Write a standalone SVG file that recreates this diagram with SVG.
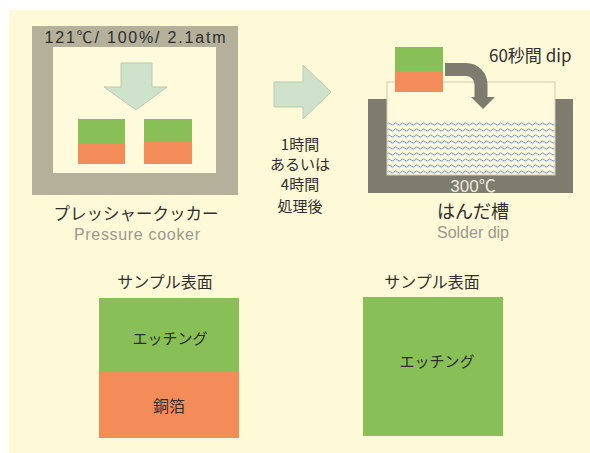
<svg xmlns="http://www.w3.org/2000/svg" width="590" height="453" viewBox="0 0 590 453">
<defs>
<style>
.jp{font-family:"Noto Sans CJK JP","Liberation Sans",sans-serif;fill:#2e2e2e;}
.lat{font-family:"Liberation Sans","Noto Sans CJK JP",sans-serif;fill:#2e2e2e;}
.sub{fill:#9a9890;}
.green{fill:#88C057;}
.orange{fill:#F48C59;}
.light{fill:#CFE2CB;stroke:#B9CBB2;stroke-width:1;}
.dark{fill:#7E7C6E;}
</style>
<pattern id="waves" x="387" y="121" width="7" height="6" patternUnits="userSpaceOnUse">
<path d="M0,3 Q1.75,0.8 3.5,3 T7,3" fill="none" stroke="#6A8EC4" stroke-width="1"/>
<path d="M0,3.8 Q1.75,1.6 3.5,3.8 T7,3.8" fill="none" stroke="#C3D3E4" stroke-width="0.6"/>
</pattern>
</defs>
<rect x="0" y="0" width="590" height="453" fill="#FFFFFF"/>
<rect x="9" y="10" width="581" height="443" fill="#FEF9D7"/>

<g id="pressure-cooker">
<rect x="32" y="26" width="206" height="169" fill="#B4B09A"/>
<rect x="53" y="47" width="163" height="126" fill="#FFFADC"/>
<text class="lat" x="135" y="43" font-size="16" text-anchor="middle" textLength="181" lengthAdjust="spacing">121℃/ 100%/ 2.1atm</text>
<polygon class="light" points="121,63 152,63 152,87 167,87 136,110 104,87 121,87"/>
<rect class="green" x="78" y="119" width="47" height="25"/>
<rect class="orange" x="78" y="144" width="47" height="20"/>
<rect class="green" x="144" y="119" width="48" height="23"/>
<rect class="orange" x="144" y="142" width="48" height="22"/>
<text class="jp" x="136" y="220" font-size="16.5" text-anchor="middle">プレッシャークッカー</text>
<text class="lat sub" x="137" y="240" font-size="16" text-anchor="middle" textLength="126" lengthAdjust="spacing">Pressure cooker</text>
</g>

<g id="process-label">
<text class="jp" x="300" y="150" font-size="15" text-anchor="middle">1時間</text>
<text class="jp" x="300" y="170" font-size="15" text-anchor="middle">あるいは</text>
<text class="jp" x="300" y="190" font-size="15" text-anchor="middle">4時間</text>
<text class="jp" x="300" y="212" font-size="15" text-anchor="middle">処理後</text>
</g>

<g id="solder-bath">
<rect class="dark" x="368" y="99" width="205" height="94"/>
<rect x="387" y="82" width="168" height="93" fill="#FFFADC" stroke="#CFCBB4" stroke-width="1"/>
<rect x="387.5" y="121" width="167" height="54" fill="url(#waves)"/>
<text x="473" y="192" font-size="17" text-anchor="middle" font-family="Liberation Sans, Noto Sans CJK JP, sans-serif" fill="#ECE9DC">300℃</text>
<text class="jp" x="473" y="218" font-size="18" text-anchor="middle">はんだ槽</text>
<text class="lat sub" x="473" y="238" font-size="16" text-anchor="middle">Solder dip</text>
<text class="jp" x="489" y="62" font-size="17">60秒間 dip</text>
</g>

<g id="dip-sample">
<rect class="green" x="395" y="47" width="48" height="24"/>
<rect class="orange" x="395" y="71" width="48" height="21"/>
</g>

<g id="connectors">
<polygon class="light" points="274,82 303,82 303,65 331,92 303,119 303,107 274,107"/>
<path d="M445,69.5 H466 A15,15 0 0 1 481,84.5 V99" fill="none" stroke="#7E7C6E" stroke-width="13"/>
<polygon class="dark" points="471,97 495,97 483,109"/>
</g>

<g id="sample-left">
<text class="jp" x="165" y="288" font-size="16" text-anchor="middle">サンプル表面</text>
<rect class="green" x="99" y="298" width="140" height="74"/>
<rect class="orange" x="99" y="372" width="140" height="66"/>
<text class="jp" x="170" y="344" font-size="15" text-anchor="middle">エッチング</text>
<text class="jp" x="169" y="412" font-size="16" text-anchor="middle">銅箔</text>
</g>

<g id="sample-right">
<text class="jp" x="432" y="288" font-size="16" text-anchor="middle">サンプル表面</text>
<rect class="green" x="363" y="297" width="140" height="139"/>
<text class="jp" x="437" y="367" font-size="15" text-anchor="middle">エッチング</text>
</g>
</svg>
